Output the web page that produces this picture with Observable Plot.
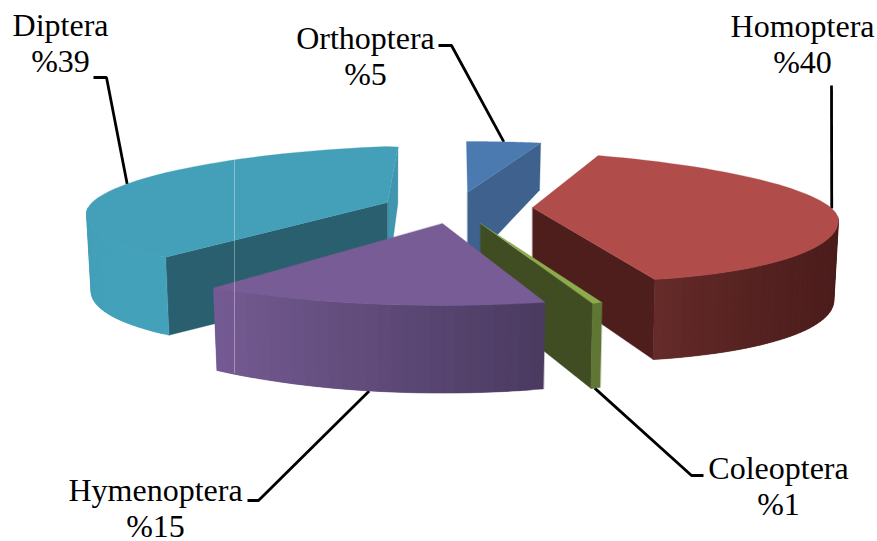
<!DOCTYPE html>
<html>
<head>
<meta charset="utf-8">
<script src="https://cdn.jsdelivr.net/npm/d3@7"></script>
<script src="https://cdn.jsdelivr.net/npm/@observablehq/plot@0.6"></script>
<style>
  html, body { margin: 0; padding: 0; background: #fff; }
  svg { display: block; }
</style>
</head>
<body>
<div id="chart"></div>
<script>
// Insect orders, share of individuals in percent, clockwise from the top.
const orders = ["Orthoptera", "Homoptera", "Coleoptera", "Hymenoptera", "Diptera"];
const shares = [5, 40, 1, 15, 39];

// Surface colours of each wedge.
const topColors = ["#4a7ab0", "#b04c49", "#8cab4d", "#775c95", "#44a0b9"];
const startFaceColors = ["#3e628d", "#4e1e1d", "#404d23", "#4a3a60", "#2a5f6f"];
const endFaceColors = ["#3e628d", "#4e1e1d", "#404d23", "#745a92", "#3f96ae"];
const rimFromColors = ["#3e628d", "#4c1d1c", "#5f7634", "#4a3a60", "#44a1ba"];
const rimToColors = ["#3e628d", "#652b29", "#5f7634", "#755b93", "#44a0b9"];

// Exploded-pie projection for each wedge: apex position, ellipse radii,
// wall heights and the small angular corrections of the perspective view.
const projection = {
  Orthoptera:  {x: 467, y: 192, rx: 306, far: 51, near: 70, lean: 0,  apexH: 74, rimH: 66, grow: 0,   nudge: 5.4, squeeze: 0.78, shadePower: 1, faces: ["end"]},
  Homoptera:   {x: 532, y: 207, rx: 306, far: 56, near: 73, lean: 13, apexH: 69, rimH: 80, grow: 0,   nudge: 0,   squeeze: 1,    shadePower: 2.5, faces: ["end"]},
  Coleoptera:  {x: 480, y: 223, rx: 306, far: 56, near: 86, lean: 0,  apexH: 77, rimH: 85, grow: 0,   nudge: 0.2, squeeze: 0.53, shadePower: 1, faces: ["end"]},
  Hymenoptera: {x: 442, y: 223, rx: 372, far: 56, near: 82, lean: 0,  apexH: 80, rimH: 63, grow: 0.3, nudge: 4,   squeeze: 1,    shadePower: 1, faces: []},
  Diptera:     {x: 387, y: 202, rx: 301, far: 56, near: 69, lean: 11, apexH: 78, rimH: 78, grow: 0,   nudge: 13.5, squeeze: 0.958, shadePower: 1, faces: ["end", "start"]}
};
const baseInset = 0.985;
const farLoss = 0.38;
const firstAngle = -95.6;

const paintOrder = ["Diptera", "Orthoptera", "Homoptera", "Coleoptera", "Hymenoptera"];

// Label anchors and leader routing; "along" is the position on the wedge's rim.
const labelPlacement = {
  Orthoptera:  {x: 365, y: 46,  along: 0.5,  base: false, knee: [451, 45], end: [438, 45]},
  Homoptera:   {x: 802, y: 34,  along: 0.455, base: false, knee: [831, 85], end: [831, 85]},
  Coleoptera:  {x: 778, y: 476, along: 0.6,  base: true,  knee: [691, 475], end: [703, 475]},
  Hymenoptera: {x: 155, y: 498, along: 0.51, base: true,  knee: [258, 500], end: [247, 500]},
  Diptera:     {x: 60,  y: 33,  along: 0.54, base: false, knee: [106, 77], end: [93, 77]}
};

const rad = (a) => a * Math.PI / 180;

function rimPoint(p, t) {
  const s = Math.sin(rad(t)), c = Math.cos(rad(t));
  return {dx: p.rx * c, dy: (s < 0 ? p.far : p.near) * s + p.lean * Math.abs(c)};
}
function topAt(p, t) {
  const r = rimPoint(p, t);
  return [p.x + r.dx, p.y + r.dy];
}
function baseAt(p, t) {
  const r = rimPoint(p, t);
  const h = r.dy < 0 ? p.rimH + farLoss * r.dy : p.rimH + p.grow * r.dy;
  return [p.x + r.dx * baseInset, p.y + r.dy + h];
}

// Angular extent of each wedge follows from its share.
const spans = new Map();
let running = firstAngle;
orders.forEach((name, i) => {
  const p = projection[name];
  const from = running + p.nudge;
  spans.set(name, {from, to: from + shares[i] * 3.6 * p.squeeze, i});
  running += shares[i] * 3.6;
});

// Every surface becomes one closed polygon, listed back to front.
const polygons = [];
let polygonId = 0;
function addPolygon(points, color) {
  const k = polygonId++;
  for (const [x, y] of points) polygons.push({x, y, k, color});
}

for (const name of paintOrder) {
  const p = projection[name];
  const {from, to, i} = spans.get(name);
  const lo = Math.min(from, to), hi = Math.max(from, to);

  // Radial faces
  for (const side of p.faces) {
    const t = side === "start" ? from : to;
    addPolygon(
      [[p.x, p.y], topAt(p, t), baseAt(p, t), [p.x, p.y + p.apexH]],
      side === "start" ? startFaceColors[i] : endFaceColors[i]
    );
  }

  // Outer wall, shaded in strips along the part of the rim facing the viewer;
  // each strip runs on under the next one so that no seams show.
  const visLo = Math.max(lo, -4), visHi = Math.min(hi, 186);
  if (visHi > visLo) {
    const strips = Math.max(2, Math.ceil((visHi - visLo) / 2));
    const shade = d3.interpolateRgb(rimFromColors[i], rimToColors[i]);
    for (let s = 0; s < strips; s++) {
      const a = visLo + (visHi - visLo) * s / strips;
      const b = visLo + (visHi - visLo) * Math.min(s + 2, strips) / strips;
      addPolygon(
        [topAt(p, a), topAt(p, b), baseAt(p, b), baseAt(p, a)],
        shade(Math.pow((s + 0.5) / strips, p.shadePower))
      );
    }
  }

  // Top surface
  const rim = d3.range(0, 61).map((n) => topAt(p, from + (to - from) * n / 60));
  addPolygon([[p.x, p.y], ...rim], topColors[i]);
}

// Leader lines run from the wedge's rim to the label.
const leaders = [];
orders.forEach((name) => {
  const l = labelPlacement[name];
  const p = projection[name];
  const {from, to} = spans.get(name);
  const t = from + (to - from) * l.along;
  const start = l.base ? baseAt(p, t) : topAt(p, t);
  for (const [x, y] of [start, l.knee, l.end]) leaders.push({name, x, y});
});

const labels = orders.map((name, i) => ({
  x: labelPlacement[name].x,
  y: labelPlacement[name].y,
  text: `${name}\n%${shares[i]}`
}));

const chart = Plot.plot({
  width: 877,
  height: 541,
  margin: 0,
  x: {domain: [0, 877], range: [0, 877], axis: null},
  y: {domain: [0, 541], range: [0, 541], axis: null},
  color: {type: "identity"},
  style: {background: "#fff"},
  marks: [
    Plot.line(leaders, {x: "x", y: "y", z: "name", stroke: "#000", strokeWidth: 2.8, strokeLinejoin: "miter", strokeLinecap: "butt"}),
    Plot.line(polygons, {x: "x", y: "y", z: "k", fill: "color", stroke: "color", strokeWidth: 0.3, curve: "linear-closed"}),
    Plot.ruleX([234], {y1: 158, y2: 373, stroke: "#fff", strokeOpacity: 0.35, strokeWidth: 1}),
    Plot.text(labels, {
      x: "x", y: "y", text: "text",
      lineAnchor: "top",
      dy: -22.7,
      lineHeight: 1.125,
      fontFamily: "Liberation Serif",
      fontSize: 32,
      fill: "#000"
    })
  ]
});
document.getElementById("chart").append(chart);
</script>
</body>
</html>
